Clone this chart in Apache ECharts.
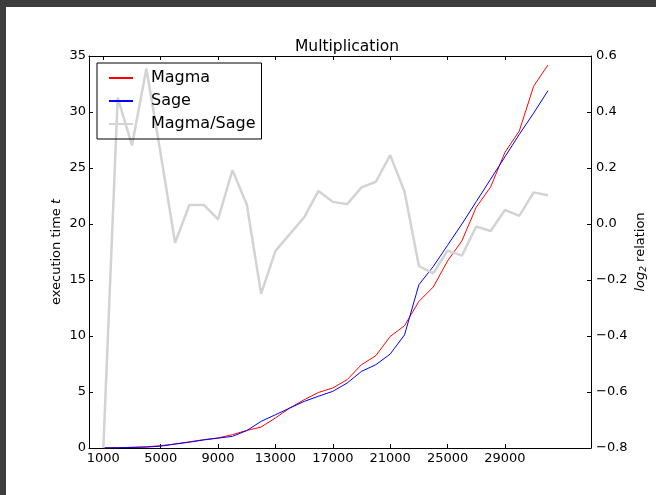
<!DOCTYPE html>
<html lang="en">
<head>
  <meta charset="UTF-8">
  <title>Multiplication</title>
  <style>
    body { margin: 0; background: #3d3d3d; width: 656px; height: 495px; overflow: hidden; }
    #main { position: absolute; left: 6px; top: 7px; width: 650px; height: 488px; background: #fff; }
  </style>
</head>
<body>
  <div id="main"></div>

  <script src="https://cdn.jsdelivr.net/npm/echarts@6/dist/echarts.min.js"></script>

  <script>
    var sizes = [1000, 2000, 3000, 4000, 5000, 6000, 7000, 8000, 9000, 10000, 11000, 12000, 13000, 14000, 15000, 16000,
      17000, 18000, 19000, 20000, 21000, 22000, 23000, 24000, 25000, 26000, 27000, 28000, 29000, 30000, 31000, 32000]
    var magma = [0.01, 0.03, 0.06, 0.11, 0.2, 0.36, 0.55, 0.74, 0.9, 1.19, 1.57, 1.87, 2.68, 3.57, 4.31, 4.96,
      5.36, 6.1, 7.44, 8.24, 9.96, 10.92, 13.09, 14.37, 16.7, 18.5, 21.5, 23.3, 26.4, 28.3, 32.3, 34.2]
    var sage = [0.01, 0.02, 0.05, 0.08, 0.17, 0.35, 0.52, 0.72, 0.88, 1.04, 1.55, 2.38, 2.97, 3.57, 4.16, 4.62,
      5.06, 5.8, 6.84, 7.44, 8.39, 10.1, 14.58, 16.2, 18.1, 20.0, 22.0, 24.0, 26.0, 28.0, 29.9, 31.9]
    var ratio = [-0.8, 0.451, 0.281, 0.555, 0.25, -0.067, 0.068, 0.068, 0.017, 0.192, 0.07, -0.249, -0.096, -0.036, 0.024, 0.118,
      0.079, 0.071, 0.131, 0.151, 0.246, 0.115, -0.15, -0.176, -0.095, -0.113, -0.009, -0.025, 0.05, 0.029, 0.113, 0.103]
    var xTicks = [1000, 5000, 9000, 13000, 17000, 21000, 25000, 29000]

    function pairs(ys) {
      return sizes.map(function (x, i) { return [x, ys[i]] })
    }

    var font = 'DejaVu Sans'
    var axisLine = { show: true, onZero: false, lineStyle: { color: '#000', width: 1 } }

    var myChart = echarts.init(document.getElementById('main'))
    var options = {
      animation: false,
      textStyle: { fontFamily: font },
      title: {
        text: 'Multiplication',
        left: 336, textAlign: 'center', top: 27,
        textStyle: { fontFamily: font, fontSize: 15.5, fontWeight: 'normal', color: '#000' }
      },
      grid: { left: 83, right: 61, top: 49, bottom: 47 },
      legend: {
        orient: 'vertical',
        left: 91, top: 56,
        padding: [6, 6, 6, 11],
        itemWidth: 24, itemHeight: 14, itemGap: 5,
        borderColor: '#000', borderWidth: 1,
        itemStyle: { opacity: 0 },
        textStyle: { fontFamily: font, fontSize: 16, color: '#000', lineHeight: 18, padding: [0, 0, 0, 13] },
        data: ['Magma', 'Sage', 'Magma/Sage']
      },
      xAxis: [{
        type: 'value', min: 0, max: 35000,
        axisLine: axisLine,
        splitLine: { show: false },
        axisTick: { inside: true, length: 4, lineStyle: { color: '#000' }, customValues: xTicks },
        axisLabel: {
          color: '#000', fontSize: 13, margin: 4, customValues: xTicks,
          formatter: function (v) { return String(v) }
        }
      }, {
        type: 'value', min: 0, max: 35000, position: 'top',
        axisLine: axisLine,
        splitLine: { show: false },
        axisTick: { inside: true, length: 4, lineStyle: { color: '#000' }, customValues: xTicks },
        axisLabel: { show: false }
      }],
      yAxis: [{
        type: 'value', min: 0, max: 35, interval: 5,
        axisLine: axisLine,
        splitLine: { show: false },
        axisTick: { inside: true, length: 4, lineStyle: { color: '#000' } },
        axisLabel: { color: '#000', fontSize: 13, margin: 3 },
        name: '{a|execution time }{i|t}',
        nameLocation: 'middle', nameRotate: 90, nameGap: 26, nameMoveOverlap: false,
        nameTextStyle: {
          color: '#000', fontSize: 13,
          rich: { a: { fontSize: 13, color: '#000' }, i: { fontSize: 13, color: '#000', fontStyle: 'italic' } }
        }
      }, {
        type: 'value', min: -0.8, max: 0.6, interval: 0.2, position: 'right',
        axisLine: axisLine,
        splitLine: { show: false },
        axisTick: { inside: true, length: 4, lineStyle: { color: '#000' } },
        axisLabel: {
          color: '#000', fontSize: 13, margin: 5,
          formatter: function (v) { return v.toFixed(1).replace('-', '\u2212') }
        },
        name: '{i|log}{s|2}{a| relation}',
        nameLocation: 'middle', nameRotate: 90, nameGap: 42, nameMoveOverlap: false,
        nameTextStyle: {
          color: '#000', fontSize: 13,
          rich: {
            a: { fontSize: 13, color: '#000' },
            i: { fontSize: 13, color: '#000', fontStyle: 'italic' },
            s: { fontSize: 9, color: '#000', fontStyle: 'italic', verticalAlign: 'bottom', padding: [6, 0, 0, 0] }
          }
        }
      }],
      series: [{
        name: 'Magma', type: 'line', data: pairs(magma),
        symbol: 'none', color: '#ff0000', lineStyle: { width: 1, color: '#ff0000' }, z: 2
      }, {
        name: 'Sage', type: 'line', data: pairs(sage),
        symbol: 'none', color: '#0000ff', lineStyle: { width: 1, color: '#0000ff' }, z: 2
      }, {
        name: 'Magma/Sage', type: 'line', yAxisIndex: 1, data: pairs(ratio),
        symbol: 'none', color: '#d3d3d3', lineStyle: { width: 2.5, color: '#d3d3d3' }, z: 3
      }]
    }
    myChart.setOption(options)
  </script>
</body>
</html>
